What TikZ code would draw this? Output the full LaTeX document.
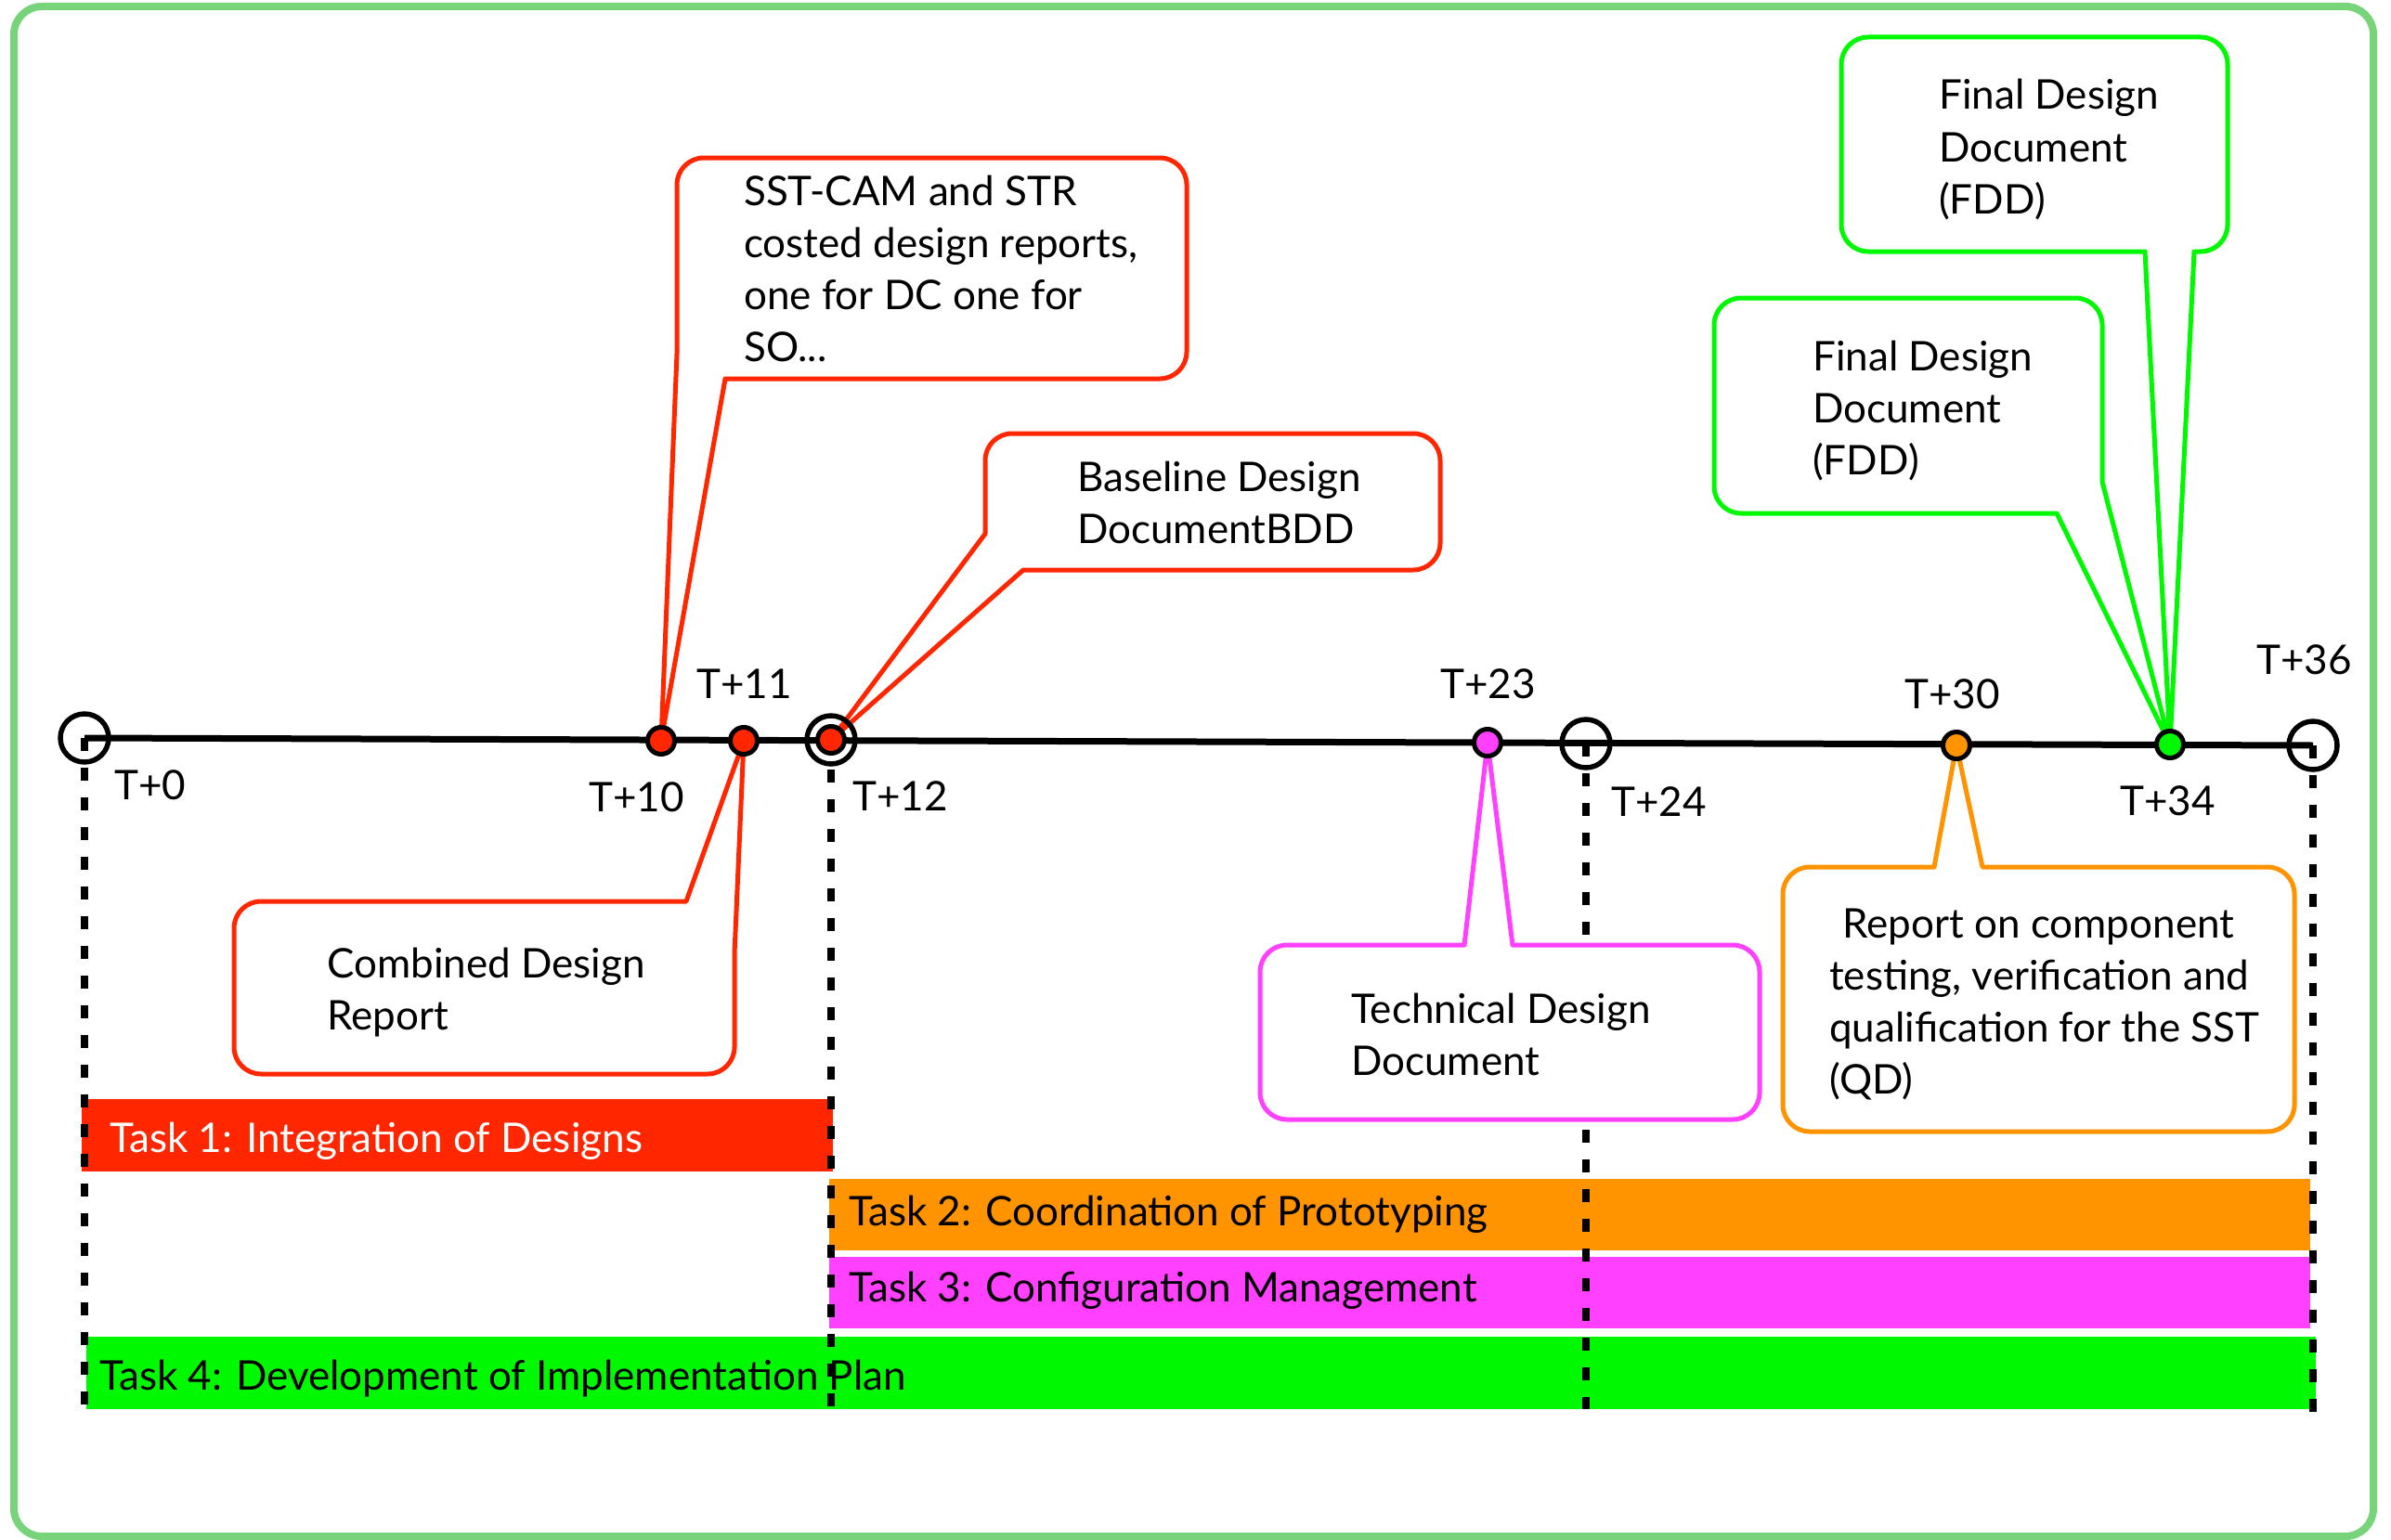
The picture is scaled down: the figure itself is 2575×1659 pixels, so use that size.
\documentclass[tikz,border=0pt]{standalone}
\usepackage{fontspec}
\setmainfont{Lato}
\definecolor{kred}{RGB}{255,38,0}
\definecolor{korange}{RGB}{255,147,0}
\definecolor{kmag}{RGB}{255,64,255}
\definecolor{kgreen}{RGB}{0,249,0}
\definecolor{frgreen}{RGB}{120,212,122}
\begin{document}
\begin{tikzpicture}[x=1pt,y=-1pt,
  font=\fontsize{44}{56}\selectfont,
  txt/.style={inner sep=0pt, anchor=base west},
  bar/.style={inner sep=0pt, anchor=north west, minimum height=78pt},
  vdash/.style={line width=7.5pt, dash pattern=on 14pt off 18pt},
  ring/.style={circle, draw=black, line width=5.5pt, minimum size=52pt, inner sep=0pt},
  dot/.style={circle, draw=black, line width=5pt, minimum size=29pt, inner sep=0pt},
  callout/.style={line width=5pt, fill=white, line join=round},
]
\useasboundingbox (0,0) rectangle (2575,1659);
% frame
\draw[frgreen, line width=8pt, rounded corners=30pt] (15,7) rectangle (2556,1655);

% key points on the time line
\coordinate (c0) at (91,795);
\coordinate (c12) at (895,797);
\coordinate (c24) at (1708,801);
\coordinate (c36) at (2491,803);
\coordinate (p10) at (712,798);
\coordinate (p11) at (801,798);
\coordinate (p23) at (1602,800);
\coordinate (p30) at (2107,803);
\coordinate (p34) at (2337,802);
\coordinate (e0) at (91,1515);
\coordinate (e12) at (895,1521);
\coordinate (e24) at (1708,1518);
\coordinate (e36) at (2491,1522);

% task bars
\node[bar, fill=kred, minimum width=809pt] (bar1) at (88,1184) {};
\node[bar, fill=korange, minimum width=1595pt, minimum height=77pt] (bar2) at (893,1270) {};
\node[bar, fill=kmag, minimum width=1595pt, minimum height=77pt] (bar3) at (893,1354) {};
\node[bar, fill=kgreen, minimum width=2401pt] (bar4) at (93,1440) {};
\node[txt, text=white] (tk1) at (118,1241) {Task 1: Integration of Designs};
\node[txt] (tk2) at (914,1320) {Task 2: Coordination of Prototyping};
\node[txt] (tk3) at (914,1402) {Task 3: Configuration Management};
\node[txt] (tk4) at (107,1497) {Task 4: Development of Implementation Plan};

% dashed verticals
\draw[vdash] (c0) -- (e0);
\draw[vdash] (c12) -- (e12);
\draw[vdash] (c24) -- (e24);
\draw[vdash] (c36) -- (e36);

% callouts
\draw[callout, draw=kred] (729,381) -- (729,199) .. controls (729,183) and (742,170) .. (758,170) -- (1249,170) .. controls (1265,170) and (1278,183) .. (1278,199) -- (1278,379) .. controls (1278,395) and (1265,408) .. (1249,408) -- (781,408) -- (p10) -- cycle;
\node[txt] (sst) at (801,221.5) {\begin{tabular}[t]{@{}l@{}}SST-CAM and STR\\costed design reports,\\one for DC one for\\SO...\end{tabular}};

\draw[callout, draw=kred] (1061,575) -- (1061,496) .. controls (1061,480) and (1074,467) .. (1090,467) -- (1522,467) .. controls (1538,467) and (1551,480) .. (1551,496) -- (1551,585) .. controls (1551,601) and (1538,614) .. (1522,614) -- (1102,614) -- (c12) -- cycle;
\node[txt] (bdd) at (1160,529) {\begin{tabular}[t]{@{}l@{}}Baseline Design\\DocumentBDD\end{tabular}};

\draw[callout, draw=kred] (252,1000) .. controls (252,984) and (265,971) .. (281,971) -- (739,971) -- (p11) -- (791,1027) -- (791,1128) .. controls (791,1144) and (778,1157) .. (762,1157) -- (281,1157) .. controls (265,1157) and (252,1144) .. (252,1128) -- cycle;
\node[txt] (cdr) at (352,1053) {\begin{tabular}[t]{@{}l@{}}Combined Design\\Report\end{tabular}};

\draw[callout, draw=kmag] (1357,1047) .. controls (1357,1031) and (1370,1018) .. (1386,1018) -- (1577,1018) -- (p23) -- (1629,1018) -- (1866,1018) .. controls (1882,1018) and (1895,1031) .. (1895,1047) -- (1895,1177) .. controls (1895,1193) and (1882,1206) .. (1866,1206) -- (1386,1206) .. controls (1370,1206) and (1357,1193) .. (1357,1177) -- cycle;
\node[txt] (tdd) at (1455,1102) {\begin{tabular}[t]{@{}l@{}}Technical Design\\Document\end{tabular}};

\draw[callout, draw=korange] (1920,963) .. controls (1920,947) and (1933,934) .. (1949,934) -- (2083,934) -- (p30) -- (2135,934) -- (2442,934) .. controls (2458,934) and (2471,947) .. (2471,963) -- (2471,1190) .. controls (2471,1206) and (2458,1219) .. (2442,1219) -- (1949,1219) .. controls (1933,1219) and (1920,1206) .. (1920,1190) -- cycle;
\node[txt] (qd) at (1970,1010) {\begin{tabular}[t]{@{}l@{}}\hspace{14pt}Report on component\\testing, verification and\\qualification for the SST\\(QD)\end{tabular}};

\draw[callout, draw=kgreen] (1846,350) .. controls (1846,334) and (1859,321) .. (1875,321) -- (2235,321) .. controls (2251,321) and (2264,334) .. (2264,350) -- (2264,519) -- (p34) -- (2215,553) -- (1875,553) .. controls (1859,553) and (1846,540) .. (1846,524) -- cycle;
\node[txt] (fdd1) at (1952,399) {\begin{tabular}[t]{@{}l@{}}Final Design\\Document\\(FDD)\end{tabular}};

\draw[callout, draw=kgreen] (1983,69) .. controls (1983,53) and (1996,40) .. (2012,40) -- (2370,40) .. controls (2386,40) and (2399,53) .. (2399,69) -- (2399,242) .. controls (2399,258) and (2386,271) .. (2370,271) -- (2363,271) -- (p34) -- (2310,271) -- (2012,271) .. controls (1996,271) and (1983,258) .. (1983,242) -- cycle;
\node[txt] (fdd2) at (2088,118) {\begin{tabular}[t]{@{}l@{}}Final Design\\Document\\(FDD)\end{tabular}};

% time line
\draw[line width=7pt] (c0) -- (c36);
\node[ring] (r0) at (c0) {};
\node[ring] (r12) at (c12) {};
\node[ring] (r24) at (c24) {};
\node[ring] (r36) at (c36) {};
\node[dot, fill=kred] (d10) at (p10) {};
\node[dot, fill=kred] (d11) at (p11) {};
\node[dot, fill=kred] (d12) at (c12) {};
\node[dot, fill=kmag] (d23) at (p23) {};
\node[dot, fill=korange] (d30) at (p30) {};
\node[dot, fill=kgreen] (d34) at (p34) {};

% labels
\node[txt] (l0) at (123,861) {T+0};
\node[txt] (l10) at (634,874) {T+10};
\node[txt] (l11) at (750,752) {T+11};
\node[txt] (l12) at (918,873) {T+12};
\node[txt] (l23) at (1551,752) {T+23};
\node[txt] (l24) at (1735,879) {T+24};
\node[txt] (l30) at (2051,763) {T+30};
\node[txt] (l34) at (2283,878) {T+34};
\node[txt] (l36) at (2430,726) {T+36};
\end{tikzpicture}
\end{document}
